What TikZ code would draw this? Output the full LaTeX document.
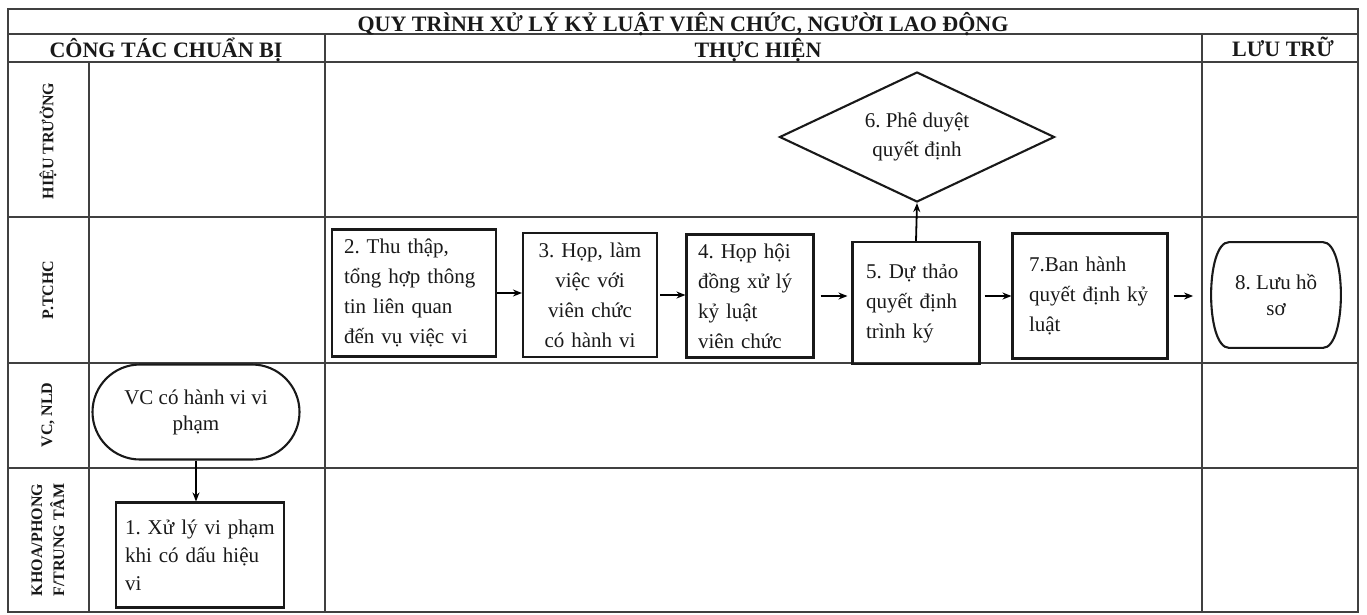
\documentclass[tikz,border=0pt]{standalone}
\usepackage{fontspec}
\setmainfont{Liberation Serif}
\usepackage{tikz}
\usetikzlibrary{shapes.geometric,shapes.misc,arrows.meta}
\frenchspacing

\tikzset{
  stepbox/.style={draw=black!90,line width=2.1pt,rectangle,inner sep=0pt,text=black!90,font=\fontsize{21}{30}\selectfont},
  roundbox/.style={draw=black!90,line width=2.1pt,rounded rectangle,inner sep=0pt,align=center,text=black!90,font=\fontsize{21}{26}\selectfont},
  storebox/.style={rectangle,inner sep=0pt,align=center,text=black!90,font=\fontsize{21}{26}\selectfont},
  outline/.style={draw=black!90,line width=2.1pt},
  decisionbox/.style={draw=black!90,line width=2.1pt,diamond,aspect=2.1,inner sep=0pt,align=center,text=black!90,font=\fontsize{21}{29}\selectfont},
  lanelabel/.style={rotate=90,align=center,text=black!90,font=\bfseries\fontsize{16}{22}\selectfont},
  headtext/.style={anchor=base,text=black!90,font=\bfseries\fontsize{22}{24}\selectfont},
  tableline/.style={draw=black!75,line width=1.6pt},
}

\begin{document}
\begin{tikzpicture}[x=1pt,y=-1pt,line width=1.8pt,>={Stealth[length=9pt,width=7pt]}]
  \useasboundingbox (0,0) rectangle (1367,614);
  % table frame and lanes
  \draw[tableline] (8,9) rectangle (1358,612);
  \draw[tableline] (8,34) -- (1358,34);
  \draw[tableline] (8,62) -- (1358,62);
  \draw[tableline] (8,217) -- (1358,217);
  \draw[tableline] (8,363) -- (1358,363);
  \draw[tableline] (8,468) -- (1358,468);
  \draw[tableline] (89,62) -- (89,612);
  \draw[tableline] (325,34) -- (325,612);
  \draw[tableline] (1202,34) -- (1202,612);

  % headers
  \node(title)[headtext] at (683,31) {QUY TRÌNH XỬ LÝ KỶ LUẬT VIÊN CHỨC, NGƯỜI LAO ĐỘNG};
  \node(prep)[headtext] at (166,57) {CÔNG TÁC CHUẨN BỊ};
  \node(exec)[headtext] at (758,57) {THỰC HIỆN};
  \node(store)[headtext] at (1283,56) {LƯU TRỮ};

  % lane labels
  \node(laneht)[lanelabel] at (48,141) {HIỆU TRƯỞNG};
  \node(lanetc)[lanelabel] at (48,290) {P.TCHC};
  \node(lanevc)[lanelabel] at (48,415) {VC, NLD};
  \node(lanekh)[lanelabel] at (48,540) {KHOA/PHONG\\F/TRUNG TÂM};

  % steps
  \node(vc)[roundbox,minimum width=207pt,minimum height=95pt] at (196,412) {VC có hành vi vi\\phạm};
  \node(b1)[stepbox,minimum width=168pt,minimum height=105pt,text width=150pt,align=left,font=\fontsize{21}{28}\selectfont] at (200,555) {1. Xử lý vi phạm\\khi có dấu hiệu\\vi};
  \node(b2)[stepbox,minimum width=164pt,minimum height=127pt,text width=140pt,align=left] at (414,293) {2. Thu thập,\\tổng hợp thông\\tin liên quan\\đến vụ việc vi};
  \node(b3)[stepbox,minimum width=134pt,minimum height=124pt,text width=124pt,align=center] at (590,295) {3. Họp, làm\\việc với\\viên chức\\có hành vi};
  \node(b4)[stepbox,minimum width=127pt,minimum height=123pt,text width=104pt,align=left] at (750,296) {4. Họp hội\\đồng xử lý\\kỷ luật\\viên chức};
  \node(b5)[stepbox,minimum width=127pt,minimum height=122pt,text width=100pt,align=left] at (916,303) {5. Dự thảo\\quyết định\\trình ký};
  \node(d6)[decisionbox,minimum width=275pt,minimum height=130pt] at (917,137) {6. Phê duyệt\\quyết định};
  \node(b7)[stepbox,minimum width=155pt,minimum height=125pt,text width=122pt,align=left] at (1090,296) {7.Ban hành\\quyết định kỷ\\luật};
  \node(s8)[storebox,minimum width=140pt,minimum height=104pt] at (1276,295) {8. Lưu hồ\\sơ};
  \draw[outline] ([xshift=24pt]s8.north west) -- ([xshift=-24pt]s8.north east)
    .. controls (s8.north east) and (s8.south east) .. ([xshift=-24pt]s8.south east)
    -- ([xshift=24pt]s8.south west)
    .. controls (s8.south west) and (s8.north west) .. cycle;

  % flow
  \draw [->] (vc.south) -- (vc.south |- b1.north);
  \draw [->] (b2.east) -- (b2.east -| b3.west);
  \draw [->,shorten <=2pt] (b3.east) -- (b3.east -| b4.west);
  \draw [->,shorten <=6pt,shorten >=4pt] (b4.east) -- (b4.east -| b5.west);
  \draw [->] (b5.north) -- (d6.south);
  \draw [->,shorten <=4pt] (b7.west -| b5.east) -- (b7.west);
  \draw [->,shorten <=5pt,shorten >=12pt] (b7.east) -- (b7.east -| s8.west);
\end{tikzpicture}
\end{document}
